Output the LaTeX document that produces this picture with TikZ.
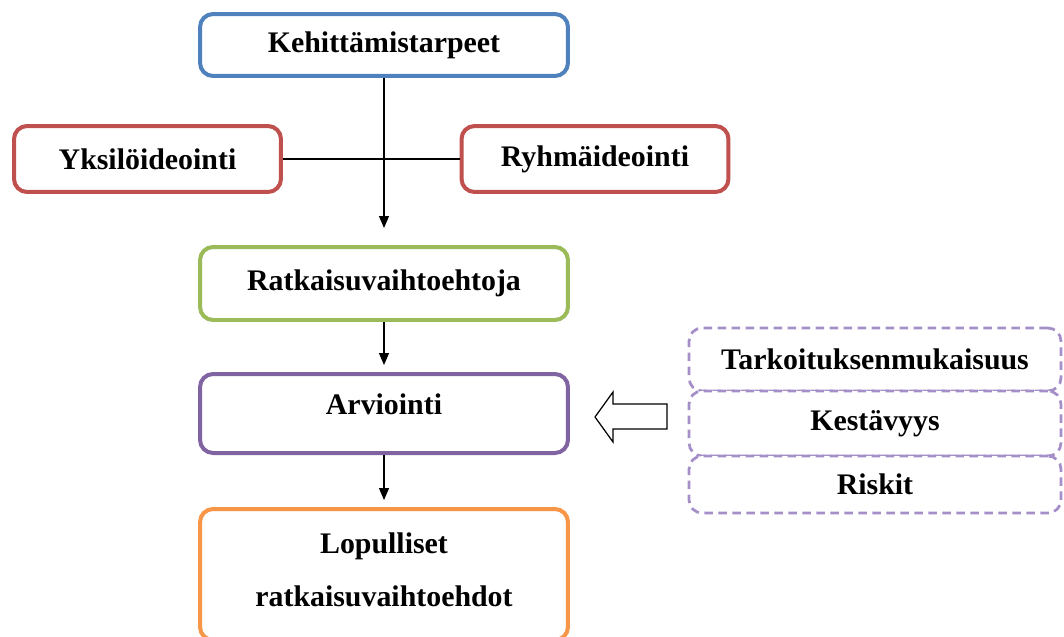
\documentclass[tikz,border=0pt]{standalone}
\usepackage{fontspec}
\setmainfont{Liberation Serif}
\usepackage{tikz}
\usetikzlibrary{arrows.meta,positioning,calc}

\definecolor{kblue}{HTML}{4F81BD}
\definecolor{kred}{HTML}{C0504D}
\definecolor{kgreen}{HTML}{9BBB59}
\definecolor{kpurple}{HTML}{8064A2}
\definecolor{korange}{HTML}{F79646}
\definecolor{klilac}{HTML}{A58FC9}

\begin{document}
\begin{tikzpicture}[x=0.02cm,y=-0.02cm,
      box/.style={rectangle,rounded corners=0.26cm,line width=0.08cm,fill=white,
        font=\fontsize{17}{30}\selectfont\bfseries,align=center,inner sep=0pt},
      main/.style={box,minimum width=7.36cm},
      side/.style={box,minimum width=5.34cm,minimum height=1.32cm,draw=kred},
      crit/.style={box,line width=0.055cm,dash pattern=on 0.17cm off 0.11cm,
        draw=klilac,minimum width=7.44cm},
      flow/.style={-{Triangle[length=0.24cm,width=0.2cm]},line width=0.7pt}]
    \useasboundingbox (0,0) rectangle (1064,636);

    \node[main,draw=kblue,minimum height=1.24cm] (needs) at (384,45) {Kehittämistarpeet};
    \node[side] (solo) at (147.5,159) {Yksilöideointi};
    \node[side] (group) at (595,159) {Ryhmäideointi};
    \node[main,draw=kgreen,minimum height=1.46cm] (options) at (384,283.5) {Ratkaisuvaihtoehtoja};
    \node[main,draw=kpurple,minimum height=1.58cm,text depth=0.36cm] (review) at (384,413.5) {Arviointi};
    \node[main,draw=korange,minimum height=2.62cm,text depth=0.2cm] (final) at (384,574.5) {Lopulliset\\ratkaisuvaihtoehdot};

    % criteria
    \foreach \y/\h/\t [count=\k] in {359.5/1.26/Tarkoituksenmukaisuus,423.5/1.3/Kestävyys,484.5/1.14/Riskit} {
      \node[crit,minimum height=\h cm] (crit\k) at (875,\y) {\t};
    }

    \draw[line width=0.7pt] (solo) -- (group);
    \draw[flow,shorten >=0.34cm] (needs) -- (options);
    \draw[flow,shorten >=0.14cm] (options) -- (review);
    \draw[flow,shorten >=0.14cm] (review) -- (final);

    % hollow arrow
    \draw[line width=0.7pt,fill=white] (667,404) -- (613,404) -- (613,392) -- (595,417)
      -- (613,442) -- (613,429) -- (667,429) -- cycle;
  \end{tikzpicture}
\end{document}
